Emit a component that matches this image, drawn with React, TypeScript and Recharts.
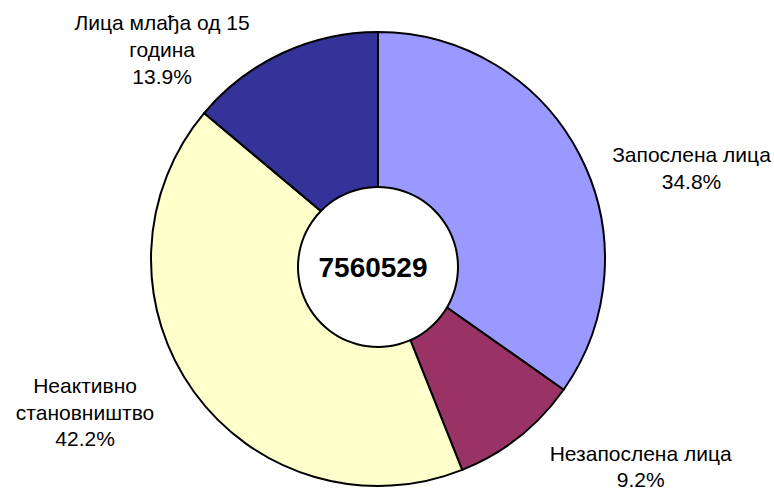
import React from 'react';
import { PieChart, Pie, Cell } from 'recharts';

const CATEGORIES = ['Запослена лица', 'Незапослена лица', 'Неактивно становништво', 'Лица млађа од 15 година'];
const LABEL_LINES = [['Запослена лица'], ['Незапослена лица'], ['Неактивно', 'становништво'], ['Лица млађа од 15', 'година']];
const SHARES = [34.8, 9.2, 42.2, 13.9];
const TOTAL = '7560529';
const COLORS = ['#9999FF', '#993366', '#FFFFCC', '#333399'];
const LABEL_NUDGE = [[112, 8], [122, 24], [-109, 1], [-120, -23]];

const data = CATEGORIES.map((name, i) => ({ name, value: SHARES[i] }));
const disc = [{ name: 'total', value: 1 }];

const FONT = '"Liberation Sans", Arial, sans-serif';
const RAD = Math.PI / 180;

const renderLabel = (p: any) => {
  const { cx, cy, midAngle, outerRadius, index, value } = p;
  const ox = cx + outerRadius * Math.cos(-midAngle * RAD);
  const oy = cy + outerRadius * Math.sin(-midAngle * RAD);
  const [dx, dy] = LABEL_NUDGE[index];
  const lines = [...LABEL_LINES[index], `${Number(value).toFixed(1)}%`];
  const gap = index === 1 ? 26 : 26.7;
  return (
    <text key={`lbl-${index}`} x={ox + dx} y={oy + dy} textAnchor="middle" fill="#000" fontSize={21} fontFamily={FONT}>
      {lines.map((l, i) => (
        <tspan key={i} x={ox + dx} y={oy + dy + i * gap}>{l}</tspan>
      ))}
    </text>
  );
};

const renderTotal = (p: any) => (
  <text key="total" x={p.cx - 5} y={p.cy} dy={10} textAnchor="middle" fill="#000" fontSize={28} fontWeight="bold" fontFamily={FONT}>
    {TOTAL}
  </text>
);

export default function App() {
  return (
    <div style={{ position: 'absolute', left: 0, top: 0, width: 774, height: 491, background: '#fff' }}>
      <PieChart width={774} height={491} margin={{ top: 0, right: 0, bottom: 0, left: 0 }}>
        <Pie
          data={data}
          dataKey="value"
          nameKey="name"
          cx={378}
          cy={259}
          outerRadius={227}
          innerRadius={0}
          startAngle={90}
          endAngle={-270}
          stroke="#000"
          strokeWidth={2}
          label={renderLabel}
          labelLine={false}
          isAnimationActive={false}
        >
          {data.map((d, i) => (
            <Cell key={d.name} fill={COLORS[i]} />
          ))}
        </Pie>
        <Pie
          data={disc}
          dataKey="value"
          cx={378}
          cy={267}
          outerRadius={80}
          innerRadius={0}
          startAngle={90}
          endAngle={-270}
          fill="#ffffff"
          stroke="none"
          label={renderTotal}
          labelLine={false}
          isAnimationActive={false}
        />
        <Pie
          data={disc}
          dataKey="value"
          cx={378}
          cy={267}
          outerRadius={81}
          innerRadius={79}
          startAngle={90}
          endAngle={-270}
          fill="#000000"
          stroke="none"
          isAnimationActive={false}
        />
      </PieChart>
    </div>
  );
}
